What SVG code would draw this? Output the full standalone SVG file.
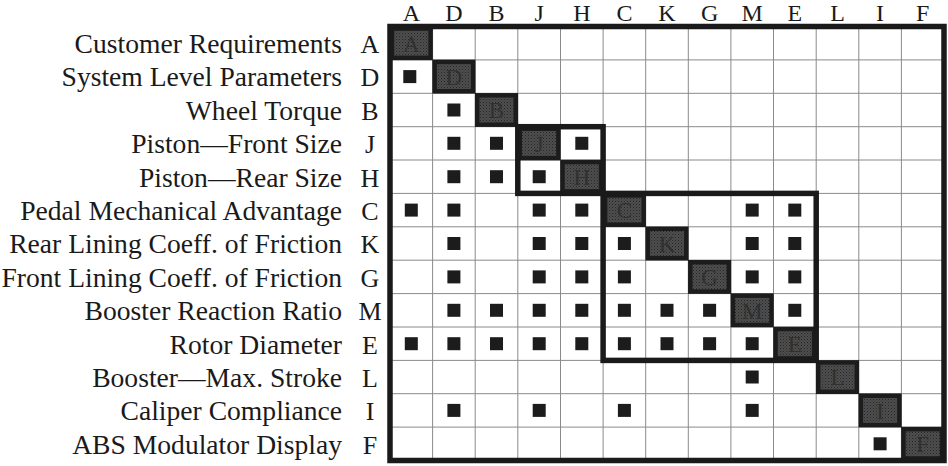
<svg xmlns="http://www.w3.org/2000/svg" width="948" height="466" viewBox="0 0 948 466">
<style>
text{font-family:"Liberation Serif","Times New Roman",serif;font-size:26px;fill:#1a1a1a}
.lbl{text-anchor:end;font-size:27.6px}
.let{text-anchor:middle}
.top{text-anchor:middle;font-size:24px}
.dl{text-anchor:middle;font-size:23px;fill:#303030}
.g{stroke:#8a8a8a;stroke-width:1;fill:none}
.m{fill:#1c1c1c}
.d{fill:url(#stip);stroke:#1c1c1c;stroke-width:4.5}
.box{fill:none;stroke:#1a1a1a;stroke-width:5.5}
</style>
<defs>
<pattern id="stip" width="3" height="3" patternUnits="userSpaceOnUse">
<rect width="3" height="3" fill="#4e4e4e"/>
<rect width="1" height="1" fill="#262626"/>
<rect x="1.5" y="1.5" width="1" height="1" fill="#303030"/>
</pattern>
</defs>
<rect x="0" y="0" width="948" height="466" fill="#ffffff"/>
<g id="column-headers">
<text class="top" x="411.3" y="21">A</text>
<text class="top" x="453.9" y="21">D</text>
<text class="top" x="496.5" y="21">B</text>
<text class="top" x="539.2" y="21">J</text>
<text class="top" x="581.8" y="21">H</text>
<text class="top" x="624.4" y="21">C</text>
<text class="top" x="667.0" y="21">K</text>
<text class="top" x="709.6" y="21">G</text>
<text class="top" x="752.2" y="21">M</text>
<text class="top" x="794.8" y="21">E</text>
<text class="top" x="837.5" y="21">L</text>
<text class="top" x="880.1" y="21">I</text>
<text class="top" x="922.7" y="21">F</text>
</g>
<g id="grid">
<path class="g" d="M432.6 26.5V460.5M475.2 26.5V460.5M517.8 26.5V460.5M560.5 26.5V460.5M603.1 26.5V460.5M645.7 26.5V460.5M688.3 26.5V460.5M730.9 26.5V460.5M773.5 26.5V460.5M816.2 26.5V460.5M858.8 26.5V460.5M901.4 26.5V460.5"/>
<path class="g" d="M390 59.9H944M390 93.3H944M390 126.7H944M390 160H944M390 193.4H944M390 226.8H944M390 260.2H944M390 293.6H944M390 327H944M390 360.4H944M390 393.7H944M390 427.1H944"/>
</g>
<g id="row-A">
<text class="lbl" x="342" y="53">Customer Requirements</text>
<text class="let" x="370" y="53">A</text>
<rect class="d" x="392" y="28.5" width="38.6" height="29.4"/>
<text class="dl" x="411.3" y="51.5">A</text>
</g>
<g id="row-D">
<text class="lbl" x="342" y="86.4">System Level Parameters</text>
<text class="let" x="370" y="86.4">D</text>
<rect class="d" x="434.6" y="61.9" width="38.6" height="29.4"/>
<text class="dl" x="453.9" y="84.9">D</text>
<rect class="m" x="403.3" y="70.1" width="13" height="13"/>
</g>
<g id="row-B">
<text class="lbl" x="342" y="119.8">Wheel Torque</text>
<text class="let" x="370" y="119.8">B</text>
<rect class="d" x="477.2" y="95.3" width="38.6" height="29.4"/>
<text class="dl" x="496.5" y="118.3">B</text>
<rect class="m" x="447.4" y="103.5" width="13" height="13"/>
</g>
<g id="row-J">
<text class="lbl" x="342" y="153.1">Piston—Front Size</text>
<text class="let" x="370" y="153.1">J</text>
<rect class="d" x="519.8" y="128.7" width="38.6" height="29.4"/>
<text class="dl" x="539.2" y="151.6">J</text>
<rect class="m" x="447.4" y="136.8" width="13" height="13"/>
<rect class="m" x="490" y="136.8" width="13" height="13"/>
<rect class="m" x="575.3" y="136.8" width="13" height="13"/>
</g>
<g id="row-H">
<text class="lbl" x="342" y="186.5">Piston—Rear Size</text>
<text class="let" x="370" y="186.5">H</text>
<rect class="d" x="562.5" y="162" width="38.6" height="29.4"/>
<text class="dl" x="581.8" y="185">H</text>
<rect class="m" x="447.4" y="170.2" width="13" height="13"/>
<rect class="m" x="490" y="170.2" width="13" height="13"/>
<rect class="m" x="532.7" y="170.2" width="13" height="13"/>
</g>
<g id="row-C">
<text class="lbl" x="342" y="219.9">Pedal Mechanical Advantage</text>
<text class="let" x="370" y="219.9">C</text>
<rect class="d" x="605.1" y="195.4" width="38.6" height="29.4"/>
<text class="dl" x="624.4" y="218.4">C</text>
<rect class="m" x="404.8" y="203.6" width="13" height="13"/>
<rect class="m" x="447.4" y="203.6" width="13" height="13"/>
<rect class="m" x="532.7" y="203.6" width="13" height="13"/>
<rect class="m" x="575.3" y="203.6" width="13" height="13"/>
<rect class="m" x="745.7" y="203.6" width="13" height="13"/>
<rect class="m" x="788.3" y="203.6" width="13" height="13"/>
</g>
<g id="row-K">
<text class="lbl" x="342" y="253.3">Rear Lining Coeff. of Friction</text>
<text class="let" x="370" y="253.3">K</text>
<rect class="d" x="647.7" y="228.8" width="38.6" height="29.4"/>
<text class="dl" x="667" y="251.8">K</text>
<rect class="m" x="447.4" y="237" width="13" height="13"/>
<rect class="m" x="532.7" y="237" width="13" height="13"/>
<rect class="m" x="575.3" y="237" width="13" height="13"/>
<rect class="m" x="617.9" y="237" width="13" height="13"/>
<rect class="m" x="745.7" y="237" width="13" height="13"/>
<rect class="m" x="788.3" y="237" width="13" height="13"/>
</g>
<g id="row-G">
<text class="lbl" x="342" y="286.7">Front Lining Coeff. of Friction</text>
<text class="let" x="370" y="286.7">G</text>
<rect class="d" x="690.3" y="262.2" width="38.6" height="29.4"/>
<text class="dl" x="709.6" y="285.2">G</text>
<rect class="m" x="447.4" y="270.4" width="13" height="13"/>
<rect class="m" x="532.7" y="270.4" width="13" height="13"/>
<rect class="m" x="575.3" y="270.4" width="13" height="13"/>
<rect class="m" x="617.9" y="270.4" width="13" height="13"/>
<rect class="m" x="745.7" y="270.4" width="13" height="13"/>
<rect class="m" x="788.3" y="270.4" width="13" height="13"/>
</g>
<g id="row-M">
<text class="lbl" x="342" y="320.1">Booster Reaction Ratio</text>
<text class="let" x="370" y="320.1">M</text>
<rect class="d" x="732.9" y="295.6" width="38.6" height="29.4"/>
<text class="dl" x="752.2" y="318.6">M</text>
<rect class="m" x="447.4" y="303.8" width="13" height="13"/>
<rect class="m" x="490" y="303.8" width="13" height="13"/>
<rect class="m" x="532.7" y="303.8" width="13" height="13"/>
<rect class="m" x="575.3" y="303.8" width="13" height="13"/>
<rect class="m" x="617.9" y="303.8" width="13" height="13"/>
<rect class="m" x="660.5" y="303.8" width="13" height="13"/>
<rect class="m" x="703.1" y="303.8" width="13" height="13"/>
<rect class="m" x="788.3" y="303.8" width="13" height="13"/>
</g>
<g id="row-E">
<text class="lbl" x="342" y="353.5">Rotor Diameter</text>
<text class="let" x="370" y="353.5">E</text>
<rect class="d" x="775.5" y="329" width="38.6" height="29.4"/>
<text class="dl" x="794.8" y="352">E</text>
<rect class="m" x="404.8" y="337.2" width="13" height="13"/>
<rect class="m" x="447.4" y="337.2" width="13" height="13"/>
<rect class="m" x="490" y="337.2" width="13" height="13"/>
<rect class="m" x="532.7" y="337.2" width="13" height="13"/>
<rect class="m" x="575.3" y="337.2" width="13" height="13"/>
<rect class="m" x="617.9" y="337.2" width="13" height="13"/>
<rect class="m" x="660.5" y="337.2" width="13" height="13"/>
<rect class="m" x="703.1" y="337.2" width="13" height="13"/>
<rect class="m" x="745.7" y="337.2" width="13" height="13"/>
</g>
<g id="row-L">
<text class="lbl" x="342" y="386.8">Booster—Max. Stroke</text>
<text class="let" x="370" y="386.8">L</text>
<rect class="d" x="818.2" y="362.4" width="38.6" height="29.4"/>
<text class="dl" x="837.5" y="385.3">L</text>
<rect class="m" x="745.7" y="370.5" width="13" height="13"/>
</g>
<g id="row-I">
<text class="lbl" x="342" y="420.2">Caliper Compliance</text>
<text class="let" x="370" y="420.2">I</text>
<rect class="d" x="860.8" y="395.7" width="38.6" height="29.4"/>
<text class="dl" x="880.1" y="418.7">I</text>
<rect class="m" x="447.4" y="403.9" width="13" height="13"/>
<rect class="m" x="532.7" y="403.9" width="13" height="13"/>
<rect class="m" x="617.9" y="403.9" width="13" height="13"/>
<rect class="m" x="745.7" y="403.9" width="13" height="13"/>
</g>
<g id="row-F">
<text class="lbl" x="342" y="453.6">ABS Modulator Display</text>
<text class="let" x="370" y="453.6">F</text>
<rect class="d" x="903.4" y="429.1" width="38.6" height="29.4"/>
<text class="dl" x="922.7" y="452.1">F</text>
<rect class="m" x="873.6" y="437.3" width="13" height="13"/>
</g>
<g id="connectors">
<rect class="box" x="517.8" y="126.7" width="85.3" height="66.7"/>
<rect class="box" x="603.1" y="193.4" width="213.1" height="167"/>
<rect class="box" x="390" y="26.5" width="554" height="434" stroke-width="6"/>
</g>
</svg>
